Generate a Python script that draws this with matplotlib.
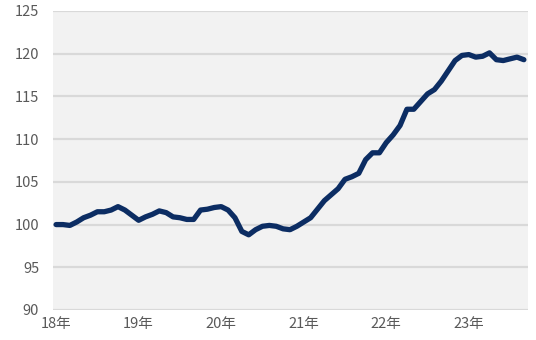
import matplotlib.pyplot as plt

plt.rcParams['font.family'] = ['Noto Sans CJK JP', 'DejaVu Sans']

# monthly index, Jan 2018 - Sep 2023
values = [
    100.0, 100.0, 99.9, 100.3, 100.8, 101.1, 101.5, 101.5, 101.7, 102.1, 101.7, 101.1,
    100.5, 100.9, 101.2, 101.6, 101.4, 100.9, 100.8, 100.6, 100.6, 101.7, 101.8, 102.0,
    102.1, 101.7, 100.8, 99.2, 98.8, 99.4, 99.8, 99.9, 99.8, 99.5, 99.4, 99.8,
    100.3, 100.8, 101.8, 102.8, 103.5, 104.2, 105.3, 105.6, 106.0, 107.6, 108.4, 108.4,
    109.6, 110.5, 111.6, 113.5, 113.5, 114.4, 115.3, 115.8, 116.8, 118.0, 119.2, 119.8,
    119.9, 119.6, 119.7, 120.1, 119.3, 119.2, 119.4, 119.6, 119.3,
]
tick_pos = [0, 12, 24, 36, 48, 60]
tick_labels = ['18年', '19年', '20年', '21年', '22年', '23年']
y_ticks = [90, 95, 100, 105, 110, 115, 120, 125]

fig = plt.figure(figsize=(5.36, 3.40), dpi=100)
ax = fig.add_axes([53 / 536, 1 - 310 / 340, 475 / 536, 299 / 340])
ax.set_facecolor('#f2f2f2')

ax.plot(range(len(values)), values, color='#0c2d63', lw=3.8,
        solid_capstyle='round', solid_joinstyle='round', zorder=3)

ax.set_ylim(90, 125)
ax.set_yticks(y_ticks)
ax.set_xlim(-0.45, 68.6)
ax.set_xticks(tick_pos)
ax.set_xticklabels(tick_labels)
ax.yaxis.grid(True, color='#d9d9d9', lw=1.6)
ax.set_axisbelow(True)
for s in ax.spines.values():
    s.set_visible(False)
ax.tick_params(length=0, labelsize=10.5, labelcolor='#595959')
ax.tick_params(axis='y', pad=10)
ax.tick_params(axis='x', pad=5)

fig.savefig('out.png', dpi=100)
